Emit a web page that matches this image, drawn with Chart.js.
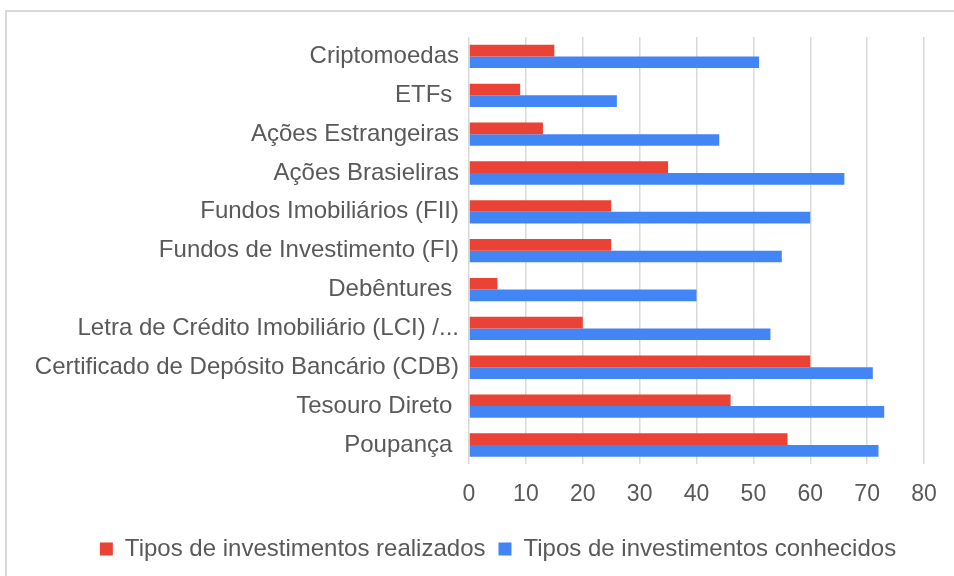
<!DOCTYPE html>
<html>
<head>
<meta charset="utf-8">
<script src="https://cdn.jsdelivr.net/npm/chart.js@4"></script>
<style>
  html, body { margin: 0; padding: 0; background: #fff; }
  #wrap { position: relative; width: 954px; height: 576px; overflow: hidden; }
  #frame { position: absolute; left: 5px; top: 10px; width: 960px; height: 580px; border: 2px solid #d9d9d9; box-sizing: border-box; }
  canvas { position: absolute; left: 0; top: 0; }
</style>
</head>
<body>
<div id="wrap">
  <div id="frame"></div>
  <canvas id="investChart" width="954" height="576"></canvas>
</div>
<script>
// categorias (de cima para baixo)
const categorias = [
  'Criptomoedas',
  'ETFs ',
  'Ações Estrangeiras',
  'Ações Brasieliras',
  'Fundos Imobiliários (FII)',
  'Fundos de Investimento (FI)',
  'Debêntures ',
  'Letra de Crédito Imobiliário (LCI) /...',
  'Certificado de Depósito Bancário (CDB)',
  'Tesouro Direto ',
  'Poupança '
];
const realizados = [15, 9, 13, 35, 25, 25, 5, 20, 60, 46, 56];
const conhecidos = [51, 26, 44, 66, 60, 55, 40, 53, 71, 73, 72];
const ticksX = [0, 10, 20, 30, 40, 50, 60, 70, 80];

const corTexto = '#595959';
const fonte = "'Liberation Sans', Arial, sans-serif";

// desloca a legenda um pouco para a direita
const moverLegenda = {
    id: 'moverLegenda',
    afterLayout(chart) {
        chart.legend.left += 31;
        chart.legend.right += 31;
    }
};

document.addEventListener('DOMContentLoaded', function() {
    const ctx = document.getElementById('investChart').getContext('2d');
    new Chart(ctx, {
        type: 'bar',
        data: {
            labels: categorias,
            datasets: [{
                label: 'Tipos de investimentos realizados',
                data: realizados,
                backgroundColor: '#EA4335'
            }, {
                label: 'Tipos de investimentos conhecidos',
                data: conhecidos,
                backgroundColor: '#4285F4'
            }]
        },
        options: {
            indexAxis: 'y',
            responsive: false,
            animation: false,
            layout: { padding: { left: 10, right: 30, top: 37, bottom: 5 } },
            datasets: { bar: { categoryPercentage: 0.6, barPercentage: 1.0 } },
            scales: {
                x: {
                    min: 0,
                    max: 80,
                    afterBuildTicks: function(scale) {
                        scale.ticks = ticksX.map(v => ({ value: v }));
                    },
                    grid: { color: '#d9d9d9', lineWidth: 1.5, drawTicks: false },
                    border: { display: false },
                    ticks: { color: corTexto, font: { family: fonte, size: 23 }, padding: 16 }
                },
                y: {
                    afterFit: function(scale) { scale.width = 459; },
                    grid: { display: false },
                    border: { display: false },
                    ticks: { color: corTexto, font: { family: fonte, size: 24 }, padding: 2, autoSkip: false }
                }
            },
            plugins: {
                legend: {
                    position: 'bottom',
                    labels: {
                        color: corTexto,
                        font: { family: fonte, size: 24 },
                        boxWidth: 13,
                        boxHeight: 13,
                        padding: 13
                    }
                },
                tooltip: { enabled: false }
            }
        },
        plugins: [moverLegenda]
    });
});
</script>
</body>
</html>
